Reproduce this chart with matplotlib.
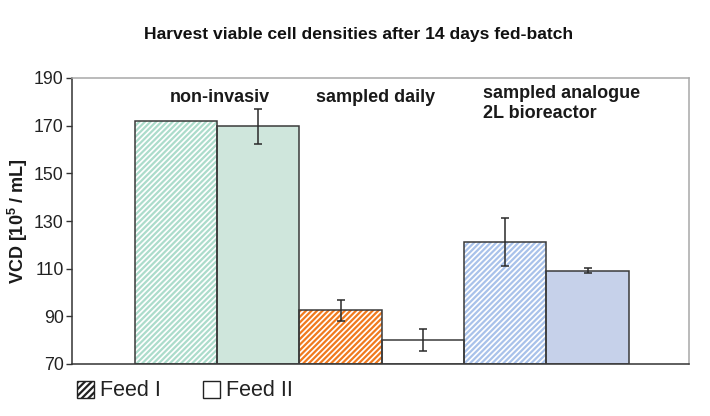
import matplotlib
matplotlib.use("Agg")
import matplotlib.pyplot as plt
from matplotlib.patches import Rectangle

plt.rcParams["font.family"] = ["Liberation Sans", "DejaVu Sans"]
plt.rcParams["mathtext.fontset"] = "custom"
plt.rcParams["mathtext.rm"] = "Liberation Sans"
plt.rcParams["mathtext.bf"] = "Liberation Sans:bold"
plt.rcParams["hatch.linewidth"] = 1.6

# Données
bars = ["non-inv. Feed I", "non-inv. Feed II", "daily Feed I",
        "daily Feed II", "2L Feed I", "2L Feed II"]
vcd = [172.0, 169.8, 92.5, 80.2, 121.3, 109.2]
vcd_err = [0.0, 7.3, 4.3, 4.6, 10.0, 0.9]
groups = ["non-invasiv", "sampled daily", "sampled analogue\n2L bioreactor"]
yticks = [70, 90, 110, 130, 150, 170, 190]
legend_labels = ["Feed I", "Feed II"]

fills = ["white", "#cfe6dc", "white", "white", "white", "#c6d1ea"]
hatch_colors = ["#acdccb", None, "#f07a1e", None, "#a9c2ea", None]
edge = "#3a3a3a"

fig = plt.figure(figsize=(7.1, 4.16), dpi=100)
ax = fig.add_axes([72 / 710, 1 - 364 / 416, 617 / 710, 286 / 416])

x = list(range(len(vcd)))
base = yticks[0]
heights = [v - base for v in vcd]

# remplissage + hachures (couleur de hachure = edgecolor, sans contour)
for xi, h, fc, hc in zip(x, heights, fills, hatch_colors):
    if hc:
        ax.bar(xi, h, width=1.0, bottom=base, color=fc, edgecolor=hc,
               hatch="//////", linewidth=0, zorder=2)
    else:
        ax.bar(xi, h, width=1.0, bottom=base, color=fc, linewidth=0, zorder=2)
# contours
ax.bar(x, heights, width=1.0, bottom=base, fill=False, edgecolor=edge,
       linewidth=1.1, zorder=3)

err_x = [xi for xi, e in zip(x, vcd_err) if e > 0]
err_y = [v for v, e in zip(vcd, vcd_err) if e > 0]
err_e = [e for e in vcd_err if e > 0]
ax.errorbar(err_x, err_y, yerr=err_e, fmt="none", ecolor="#2a2a2a",
            elinewidth=1.1, capsize=3, capthick=1.1, zorder=4)

ax.set_xlim(-1.262, 6.232)
ax.set_ylim(yticks[0], yticks[-1])
ax.set_yticks(yticks)
ax.set_xticks([])
ax.tick_params(axis="y", labelsize=12.8, length=4, width=1, color="#333333",
               labelcolor="#222222", direction="out", pad=2)

for s in ("left", "bottom"):
    ax.spines[s].set_color("#333333")
    ax.spines[s].set_linewidth(1.1)
for s in ("top", "right"):
    ax.spines[s].set_color("#a8a8a8")
    ax.spines[s].set_linewidth(1.1)

ax.set_ylabel(r"VCD [10$^\mathbf{5}$ / mL]", fontsize=13, fontweight="bold",
              color="#1a1a1a", va="center")
ax.yaxis.set_label_coords(-54 / 617, 0.5)

# étiquettes des groupes
ax.text(0.536, 182, groups[0], ha="center", va="center", fontsize=13,
        fontweight="bold", color="#1a1a1a")
ax.text(2.43, 182, groups[1], ha="center", va="center", fontsize=13,
        fontweight="bold", color="#1a1a1a")
ax.text(3.73, 179.4, groups[2], ha="left", va="center", fontsize=13,
        fontweight="bold", color="#1a1a1a", linespacing=1.2)

fig.text(0.505, 1 - 35 / 416, "Harvest viable cell densities after 14 days fed-batch",
         ha="center", va="center", fontsize=12.6, fontweight="bold", color="#111111")

# légende dessinée à la main (coordonnées en pixels de la figure)
W, H = 710, 416
legend_x = [77, 203]
for lx, lab, hatch in zip(legend_x, legend_labels, ["/////", None]):
    fig.patches.append(Rectangle((lx / W, 1 - 398 / H), 17 / W, 17 / H,
                                 transform=fig.transFigure, facecolor="white",
                                 edgecolor="#222222", hatch=hatch, linewidth=1))
    fig.text((lx + 23) / W, 1 - 390 / H, lab, ha="left", va="center",
             fontsize=15.5, color="#222222")

fig.savefig("out.png", dpi=100, facecolor="white")
